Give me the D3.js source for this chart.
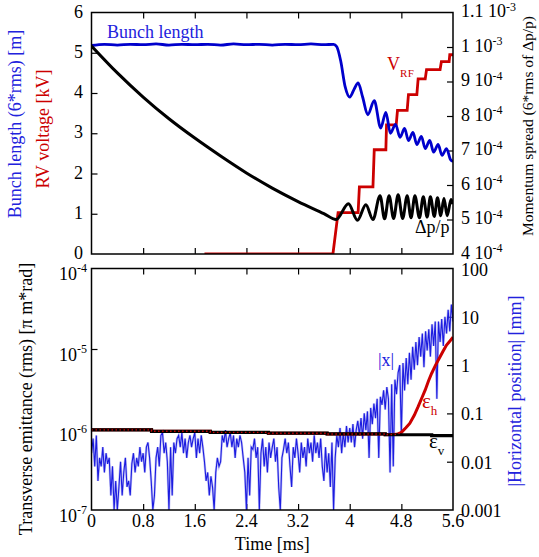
<!DOCTYPE html>
<html>
<head>
<meta charset="utf-8">
<script src="https://cdn.jsdelivr.net/npm/d3@7"></script>
<style>
    body { margin: 0; background: #fff; }
</style>
</head>
<body>
<svg id="chart" width="539" height="557" font-family="'Liberation Serif', 'DejaVu Serif', serif"></svg>
<script>
// ===== Valeurs =====

const timeTicks = [0, 0.8, 1.6, 2.4, 3.2, 4, 4.8, 5.6];
const lengthTicks = [0, 1, 2, 3, 4, 5, 6];
const momentumTicks = [4e-4, 5e-4, 6e-4, 7e-4, 8e-4, 9e-4, 1e-3, 1.1e-3];
const momentumLabels = [["4 10", "-4"], ["5 10", "-4"], ["6 10", "-4"], ["7 10", "-4"],
    ["8 10", "-4"], ["9 10", "-4"], ["1 10", "-3"], ["1.1 10", "-3"]];
const emittanceTicks = [1e-7, 1e-6, 1e-5, 1e-4];
const emittanceLabels = [["10", "-7"], ["10", "-6"], ["10", "-5"], ["10", "-4"]];
const positionTicks = [0.001, 0.01, 0.1, 1, 10, 100];
const positionLabels = ["0.001", "0.01", "0.1", "1", "10", "100"];

// bunch length (6*rms) [m] : [temps ms, valeur]
const bunchLength = [[0, 5.18], [0.2, 5.21], [0.4, 5.19], [0.6, 5.21], [0.8, 5.2], [1.0, 5.22],
    [1.2, 5.19], [1.4, 5.21], [1.6, 5.2], [1.8, 5.21], [2.0, 5.19], [2.2, 5.22], [2.4, 5.2],
    [2.6, 5.21], [2.8, 5.19], [3.0, 5.21], [3.2, 5.2], [3.4, 5.22], [3.6, 5.2], [3.75, 5.21],
    [3.8, 5.15], [3.86, 4.8], [3.93, 4.15], [4.0, 3.9], [4.07, 4.1], [4.13, 4.25], [4.2, 3.9],
    [4.28, 3.46], [4.38, 3.81], [4.48, 3.13], [4.56, 3.52], [4.63, 3.0], [4.71, 3.22], [4.78, 2.9],
    [4.85, 3.12], [4.91, 2.82], [4.98, 3.02], [5.04, 2.72], [5.11, 2.92], [5.17, 2.62], [5.24, 2.82],
    [5.30, 2.53], [5.37, 2.72], [5.43, 2.45], [5.50, 2.62], [5.56, 2.35], [5.60, 2.30]];

// tension RF [kV]
const rfVoltage = [[1.75, 0], [3.74, 0], [3.82, 1.03], [4.13, 1.03], [4.15, 1.67], [4.36, 1.67],
    [4.38, 2.59], [4.56, 2.59], [4.57, 3.21], [4.72, 3.21], [4.74, 3.57], [4.89, 3.57], [4.91, 3.96],
    [5.04, 3.96], [5.06, 4.35], [5.17, 4.35], [5.19, 4.58], [5.40, 4.58], [5.42, 4.78], [5.54, 4.78],
    [5.55, 4.95], [5.6, 4.95]];

// momentum spread (6*rms de dp/p)
const momentumSpread = [[0, 1.003e-3], [0.4, 9.25e-4], [0.8, 8.55e-4], [1.2, 7.92e-4], [1.6, 7.36e-4],
    [2.0, 6.84e-4], [2.4, 6.35e-4], [2.8, 5.91e-4], [3.2, 5.52e-4], [3.6, 5.17e-4], [3.79, 5.0e-4],
    [3.98, 5.46e-4], [4.12, 4.98e-4], [4.25, 5.43e-4], [4.36, 5.0e-4], [4.47, 5.69e-4], [4.54, 5.02e-4],
    [4.61, 5.69e-4], [4.68, 5.03e-4], [4.75, 5.72e-4], [4.82, 5.03e-4], [4.89, 5.69e-4], [4.95, 5.05e-4],
    [5.01, 5.69e-4], [5.08, 5.05e-4], [5.14, 5.66e-4], [5.20, 5.07e-4], [5.25, 5.66e-4], [5.31, 5.09e-4],
    [5.36, 5.63e-4], [5.41, 5.11e-4], [5.46, 5.61e-4], [5.51, 5.11e-4], [5.57, 5.58e-4], [5.6, 5.45e-4]];

// emittances transverses (rms) [pi m rad]
const emitV = [[0, 0.99e-6], [0.93, 0.99e-6], [0.93, 0.95e-6], [1.84, 0.95e-6], [1.84, 0.92e-6],
    [2.74, 0.92e-6], [2.74, 0.9e-6], [3.65, 0.9e-6], [3.65, 0.88e-6], [4.55, 0.88e-6], [4.55, 0.86e-6],
    [5.27, 0.86e-6], [5.27, 0.84e-6], [5.6, 0.84e-6]];
const emitH = [[0, 0.99e-6], [0.93, 0.99e-6], [0.93, 0.95e-6], [1.84, 0.95e-6], [1.84, 0.92e-6],
    [2.74, 0.92e-6], [2.74, 0.9e-6], [3.65, 0.9e-6], [3.65, 0.88e-6], [4.55, 0.88e-6], [4.55, 0.86e-6],
    [4.73, 0.87e-6], [4.8, 0.92e-6], [4.87, 1.05e-6], [4.93, 1.19e-6], [5.0, 1.5e-6], [5.06, 1.92e-6],
    [5.12, 2.5e-6], [5.17, 3.1e-6], [5.22, 4.0e-6], [5.27, 5.0e-6], [5.33, 6.3e-6], [5.40, 8.0e-6],
    [5.45, 9.5e-6], [5.50, 1.12e-5], [5.55, 1.25e-5], [5.6, 1.4e-5]];

// |x| [mm], un point toutes les 0.025 ms a partir de t = 0
const posStep = 0.025;
const horizontalPos = [
    0.015, 0.03, 0.008, 0.035, 0.004, 0.012, 0.008, 0.02, 0.006, 0.015, 0.009, 0.012, 0.002, 0.008, 0.001, 0.004, 0.001, 0.003, 0.01, 0.002,
    0.006, 0.012, 0.003, 0.004, 0.002, 0.009, 0.015, 0.006, 0.012, 0.008, 0.02, 0.01, 0.015, 0.006, 0.02, 0.025, 0.012, 0.004, 0.001, 0.002,
    0.012, 0.02, 0.008, 0.035, 0.04, 0.015, 0.025, 0.01, 0.001, 0.02, 0.002, 0.025, 0.015, 0.03, 0.035, 0.02, 0.04, 0.015, 0.03, 0.012,
    0.025, 0.035, 0.02, 0.03, 0.04, 0.012, 0.03, 0.015, 0.035, 0.02, 0.01, 0.004, 0.006, 0.002, 0.005, 0.003, 0.001, 0.006, 0.012, 0.008,
    0.01, 0.035, 0.025, 0.045, 0.02, 0.03, 0.04, 0.02, 0.035, 0.012, 0.03, 0.02, 0.035, 0.025, 0.012, 0.006, 0.001, 0.012, 0.002, 0.02,
    0.018, 0.03, 0.012, 0.02, 0.001, 0.015, 0.03, 0.008, 0.02, 0.006, 0.025, 0.012, 0.02, 0.03, 0.01, 0.02, 0.003, 0.001, 0.012, 0.018,
    0.03, 0.015, 0.025, 0.008, 0.003, 0.02, 0.012, 0.03, 0.015, 0.006, 0.025, 0.012, 0.02, 0.008, 0.03, 0.015, 0.025, 0.01, 0.035, 0.015,
    0.025, 0.012, 0.03, 0.008, 0.004, 0.02, 0.006, 0.015, 0.003, 0.025, 0.001, 0.012, 0.035, 0.02, 0.05, 0.015, 0.04, 0.02, 0.055, 0.025,
    0.05, 0.025, 0.06, 0.02, 0.045, 0.07, 0.035, 0.08, 0.03, 0.1, 0.045, 0.11, 0.012, 0.13, 0.06, 0.16, 0.08, 0.2, 0.012, 0.22,
    0.15, 0.3, 0.12, 0.35, 0.2, 0.006, 0.4, 0.008, 0.5, 0.25, 0.7, 1.0, 0.035, 1.1, 0.3, 1.4, 0.4, 1.8, 0.5, 2.4,
    0.8, 3.0, 1.0, 3.8, 1.5, 4.5, 0.9, 5.0, 2.0, 5.5, 1.5, 7.0, 2.5, 8.0, 0.2, 8.0, 3.0, 9.0, 2.5, 10,
    4.5, 14, 5, 18, 8
];

// ===== Mise en page =====

const xLeft = 91.5, xRight = 453;
const top1 = 12.5, bottom1 = 254, top2 = 268.5, bottom2 = 510;
const red = "#cc0000", blue = "#0000cc", textBlue = "#2222dd";
const serif = "'Liberation Serif', 'DejaVu Serif', serif";

const svg = d3.select("#chart");

const x = d3.scaleLinear().domain([0, 5.6]).range([xLeft, xRight]);
const yLength = d3.scaleLinear().domain([0, 6]).range([bottom1, top1]);
const yMomentum = d3.scaleLinear().domain([4e-4, 1.1e-3]).range([bottom1, top1]);
const yEmit = d3.scaleLog().domain([1e-7, 1e-4]).range([bottom2, top2]);
const yPos = d3.scaleLog().domain([1e-3, 100]).range([bottom2, top2]);

// clip pour chaque panneau
const defs = svg.append("defs");
defs.append("clipPath").attr("id", "clipTop").append("rect")
    .attr("x", xLeft).attr("y", top1).attr("width", xRight - xLeft).attr("height", bottom1 - top1);
defs.append("clipPath").attr("id", "clipBottom").append("rect")
    .attr("x", xLeft).attr("y", top2).attr("width", xRight - xLeft).attr("height", bottom2 - top2);

// ticks vers l'interieur, sans labels
function innerTicks(axis, values) {
    return axis.tickValues(values).tickSize(-6).tickSizeOuter(0).tickFormat("");
}

function drawTicks(g) {
    g.select(".domain").remove();
    g.selectAll(".tick line").attr("stroke", "#000").attr("stroke-width", 1.2);
}

const inner = timeTicks.slice(1, -1);
[[top1], [bottom1], [top2], [bottom2]].forEach(([yy], i) => {
    const axis = (i % 2 === 0) ? d3.axisTop(x) : d3.axisBottom(x);
    svg.append("g").attr("transform", `translate(0,${yy})`).call(innerTicks(axis, inner)).call(drawTicks);
});
svg.append("g").attr("transform", `translate(${xLeft},0)`)
    .call(innerTicks(d3.axisLeft(yLength), lengthTicks.slice(1, -1))).call(drawTicks);
svg.append("g").attr("transform", `translate(${xRight},0)`)
    .call(innerTicks(d3.axisRight(yMomentum), momentumTicks.slice(1, -1))).call(drawTicks);
svg.append("g").attr("transform", `translate(${xLeft},0)`)
    .call(innerTicks(d3.axisLeft(yEmit), emittanceTicks.slice(1, -1))).call(drawTicks);
svg.append("g").attr("transform", `translate(${xRight},0)`)
    .call(innerTicks(d3.axisRight(yPos), positionTicks.slice(1, -1))).call(drawTicks);

// ===== Courbes du haut =====

const gTop = svg.append("g").attr("clip-path", "url(#clipTop)");

gTop.append("path").datum(rfVoltage)
    .attr("d", d3.line().x(d => x(d[0])).y(d => yLength(d[1])))
    .attr("fill", "none").attr("stroke", red).attr("stroke-width", 2.8);

gTop.append("path").datum(bunchLength)
    .attr("d", d3.line().curve(d3.curveMonotoneX).x(d => x(d[0])).y(d => yLength(d[1])))
    .attr("fill", "none").attr("stroke", blue).attr("stroke-width", 2.8);

gTop.append("path").datum(momentumSpread)
    .attr("d", d3.line().curve(d3.curveMonotoneX).x(d => x(d[0])).y(d => yMomentum(d[1])))
    .attr("fill", "none").attr("stroke", "#000").attr("stroke-width", 3);

// ===== Courbes du bas =====

const gBottom = svg.append("g").attr("clip-path", "url(#clipBottom)");
const posLine = d3.line().x((d, i) => x(i * posStep)).y(d => yPos(d));

gBottom.append("path").datum(horizontalPos).attr("d", posLine)
    .attr("fill", "none").attr("stroke", "#8f8ff0").attr("stroke-width", 2.4).attr("stroke-opacity", 0.55);
gBottom.append("path").datum(horizontalPos).attr("d", posLine)
    .attr("fill", "none").attr("stroke", "#1c1ce0").attr("stroke-width", 1.1);

const emitLine = d3.line().x(d => x(d[0])).y(d => yEmit(d[1]));
gBottom.append("path").datum(emitH).attr("d", emitLine)
    .attr("fill", "none").attr("stroke", red).attr("stroke-width", 3);
gBottom.append("path").datum(emitV).attr("d", emitLine)
    .attr("fill", "none").attr("stroke", "#000").attr("stroke-width", 3.2);
gBottom.append("path").datum(emitH).attr("d", emitLine)
    .attr("fill", "none").attr("stroke", red).attr("stroke-width", 1.4).attr("stroke-dasharray", "1.5,2.5");

// cadres
[[top1, bottom1], [top2, bottom2]].forEach(([a, b]) => {
    svg.append("rect").attr("x", xLeft).attr("y", a).attr("width", xRight - xLeft).attr("height", b - a)
        .attr("fill", "none").attr("stroke", "#000").attr("stroke-width", 1.5);
});

// ===== Labels des axes =====

const fs = 18;

function label(px, py) {
    return svg.append("text").attr("x", px).attr("y", py).attr("font-family", serif).attr("font-size", fs);
}

function withSup(sel, base, sup, rise) {
    sel.append("tspan").text(base);
    sel.append("tspan").attr("font-size", 12).attr("dy", -rise).text(sup);
}

lengthTicks.forEach(v => {
    label(83, yLength(v) + 5).attr("text-anchor", "end").text(v);
});
momentumTicks.forEach((v, i) => {
    withSup(label(461, yMomentum(v) + 4.5), momentumLabels[i][0], momentumLabels[i][1], 6.5);
});
emittanceTicks.forEach((v, i) => {
    withSup(label(87, yEmit(v) + 11.5).attr("text-anchor", "end"), emittanceLabels[i][0], emittanceLabels[i][1], 8);
});
positionTicks.forEach((v, i) => {
    label(461, yPos(v) + 7).text(positionLabels[i]);
});
timeTicks.forEach(v => {
    label(x(v), 527).attr("text-anchor", "middle").text(v);
});

label((xLeft + xRight) / 2, 550).attr("text-anchor", "middle").text("Time [ms]");

function vertical(text, cx, cy, color, size) {
    svg.append("text").attr("transform", `translate(${cx},${cy}) rotate(-90)`)
        .attr("text-anchor", "middle").attr("dominant-baseline", "central")
        .attr("font-family", serif).attr("font-size", size).attr("fill", color).text(text);
}
vertical("Bunch length (6*rms) [m]", 15, 124, textBlue, fs);
vertical("RV voltage [kV]", 43, 129, red, fs);
vertical("Transverse emittance (rms) [\u03c0 m*rad]", 26, 399, "#000", fs);
vertical("Momentum spread (6*rms of \u0394p/p)", 527, 126, "#000", 15.5);
vertical("|Horizontal position| [mm]", 515, 391, textBlue, fs);

// ===== Labels dans les graphiques =====

label(107, 38).attr("fill", textBlue).text("Bunch length");

const vrf = label(387, 70).attr("fill", red);
vrf.append("tspan").text("V");
vrf.append("tspan").attr("font-size", 11).attr("dy", 7).attr("letter-spacing", 0.5).text("RF");

label(415, 233).text("\u0394p/p");
label(378, 366).attr("fill", textBlue).text("|x|");

const eh = label(422, 408).attr("font-size", 21).attr("fill", red);
eh.append("tspan").text("\u03b5");
eh.append("tspan").attr("font-size", 13).attr("dy", 7).text("h");

const ev = label(429, 448).attr("font-size", 21).attr("fill", "#000");
ev.append("tspan").text("\u03b5");
ev.append("tspan").attr("font-size", 13).attr("dy", 7).text("v");
</script>
</body>
</html>
